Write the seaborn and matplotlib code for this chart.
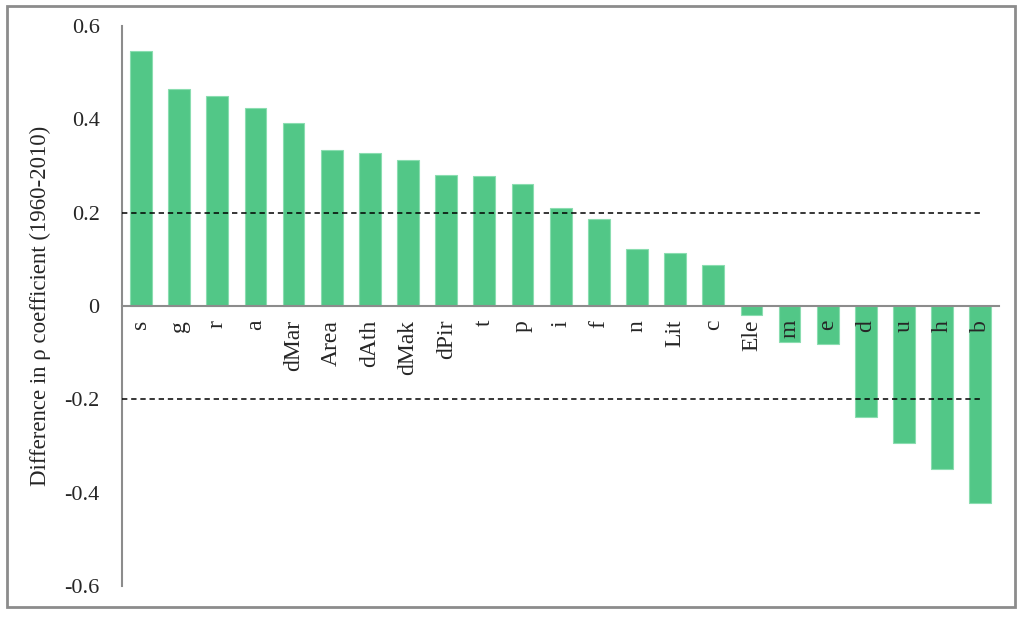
import pandas as pd
import seaborn as sns
import matplotlib.pyplot as plt
from matplotlib.patches import Rectangle

variaveis = ['s', 'g', 'r', 'a', 'dMar', 'Area', 'dAth', 'dMak', 'dPir', 't', 'p', 'i',
             'f', 'n', 'Lit', 'c', 'Ele', 'm', 'e', 'd', 'u', 'h', 'b']
diferenca = [0.546, 0.465, 0.449, 0.425, 0.391, 0.335, 0.328, 0.313, 0.280, 0.279, 0.262, 0.210,
             0.186, 0.122, 0.113, 0.087, -0.019, -0.078, -0.082, -0.237, -0.294, -0.348, -0.422]
limiares = [0.2, -0.2]
yticks = [0.6, 0.4, 0.2, 0, -0.2, -0.4, -0.6]

tabela = pd.DataFrame({'variavel': variaveis, 'diferenca': diferenca})

sns.set_style('white')
plt.rcParams['font.family'] = ['Liberation Serif', 'DejaVu Serif']

fig = plt.figure(figsize=(10.24, 6.17), dpi=100)
ax = fig.add_axes([0.119, 0.050, 0.857, 0.908])

sns.barplot(data=tabela, x='variavel', y='diferenca', order=variaveis, color='#52C787',
            saturation=1, width=0.57, edgecolor='#8ADDB0', linewidth=0.8, ax=ax)

for lim in limiares:
    ax.hlines(lim, -0.5, 22.05, colors='black', linestyles=(0, (3.5, 2.5)), linewidth=1.1, zorder=3)

# eixo x na linha do zero (antes de mexer nos ticks, pois reseta)
ax.spines['bottom'].set_position(('data', 0))
for lado in ['top', 'right']:
    ax.spines[lado].set_visible(False)
for lado in ['left', 'bottom']:
    ax.spines[lado].set_color('#8C8C8C')
    ax.spines[lado].set_linewidth(1.5)
ax.set_axisbelow(False)

ax.set_xlim(-0.5, 22.5)
ax.set_ylim(-0.6, 0.6)
ax.set_yticks(yticks)
ax.set_yticklabels(['0.6', '0.4', '0.2', '0', '-0.2', '-0.4', '-0.6'], fontsize=16)
ax.set_xticks(range(len(variaveis)))
ax.set_xticklabels(variaveis, rotation=90, fontsize=17, va='top', ha='center')
ax.tick_params(axis='both', length=0)
ax.tick_params(axis='y', pad=16)
ax.tick_params(axis='x', pad=10)

ax.set_xlabel('')
ax.set_ylabel('Difference in ρ coefficient (1960-2010)', fontsize=16.5)
ax.yaxis.set_label_coords(-0.081, 0.5)

fig.patches.append(Rectangle((0.007, 0.016), 0.984, 0.975, transform=fig.transFigure,
                             fill=False, edgecolor='#8C8C8C', linewidth=2))

fig.savefig('out.png', dpi=100)
